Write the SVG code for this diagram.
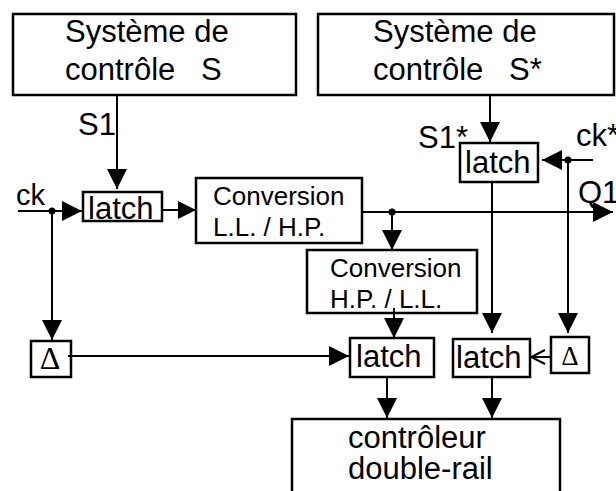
<svg xmlns="http://www.w3.org/2000/svg" width="616" height="491" viewBox="0 0 616 491">
<defs>
<marker id="ah" markerUnits="userSpaceOnUse" viewBox="0 0 20 20" markerWidth="20" markerHeight="20" refX="20" refY="10" orient="auto"><path d="M0,0 L20,10 L0,20 z" fill="#000"/></marker>
<marker id="ahs" markerUnits="userSpaceOnUse" viewBox="0 0 18 18" markerWidth="18" markerHeight="18" refX="18" refY="9" orient="auto"><path d="M0,0 L18,9 L0,18 z" fill="#000"/></marker>
<marker id="open" markerUnits="userSpaceOnUse" viewBox="0 0 16 16" markerWidth="16" markerHeight="16" refX="15" refY="8" orient="auto"><path d="M1,1 L15,8 L1,15" fill="none" stroke="#000" stroke-width="2"/></marker>
</defs>
<style>
rect{fill:#fff;stroke:#000;stroke-width:2.5}
.c line{stroke:#000;stroke-width:2}
.c circle{fill:#000}
text{font-family:"Liberation Sans",Arial,sans-serif;fill:#000;white-space:pre}
.b{font-size:31px}
.s{font-size:26px}
.d{font-family:"Liberation Serif","Times New Roman",serif;text-anchor:middle}
</style>
<rect x="0" y="0" width="616" height="491" style="fill:#fff;stroke:none"/>
<g id="sysS">
<rect x="13" y="14" width="283" height="81"/>
<text class="b" x="65" y="42">Système de</text>
<text class="b" x="65" y="80" xml:space="preserve">contrôle   S</text>
</g>
<g id="sysSstar">
<rect x="318" y="14" width="296" height="81"/>
<text class="b" x="373" y="42">Système de</text>
<text class="b" x="373" y="80" xml:space="preserve">contrôle   S*</text>
</g>
<g id="latchS">
<rect x="83" y="192" width="79" height="29"/>
<text class="b" x="88" y="219">latch</text>
</g>
<g id="latchSstar">
<rect x="460" y="143" width="78" height="39"/>
<text class="b" x="465" y="173">latch</text>
</g>
<g id="convLLHP">
<rect x="196" y="178" width="166" height="65"/>
<text class="s" x="213" y="205">Conversion</text>
<text class="s" x="213" y="236">L.L. / H.P.</text>
</g>
<g id="convHPLL">
<rect x="307" y="250" width="170" height="63"/>
<text class="s" x="330" y="277">Conversion</text>
<text class="s" x="330" y="308">H.P. / L.L.</text>
</g>
<g id="delayL">
<rect x="31" y="341" width="40" height="36"/>
<text class="d" x="50" y="369" style="font-size:32px">Δ</text>
</g>
<g id="delayR">
<rect x="551" y="337" width="38" height="36"/>
<text class="d" x="570" y="365" style="font-size:27px">Δ</text>
</g>
<g id="latch1">
<rect x="350" y="338" width="84" height="39"/>
<text class="b" x="356" y="367">latch</text>
</g>
<g id="latch2">
<rect x="453" y="339" width="77" height="38"/>
<text class="b" x="456" y="368">latch</text>
</g>
<g id="ctrl">
<rect x="292" y="419" width="268" height="90"/>
<text class="b" x="348" y="448">contrôleur</text>
<text class="b" x="348" y="479">double-rail</text>
</g>
<g id="labels">
<text class="b" x="78" y="135">S1</text>
<text class="b" x="16" y="205" style="font-size:29px">ck</text>
<text class="b" x="418" y="148">S1*</text>
<text class="b" x="576" y="146">ck*</text>
<text class="b" x="578" y="203">Q1</text>
</g>
<g id="connectors" class="c">
<line x1="117" y1="95" x2="117" y2="189" marker-end="url(#ah)"/>
<line x1="18" y1="211" x2="82" y2="211" marker-end="url(#ah)"/>
<circle cx="52" cy="211" r="3.5"/>
<line x1="52" y1="211" x2="52" y2="340" marker-end="url(#ah)"/>
<line x1="162" y1="210" x2="196" y2="210" marker-end="url(#ahs)"/>
<line x1="362" y1="212" x2="613" y2="212" marker-end="url(#ah)"/>
<circle cx="392" cy="212" r="3.5"/>
<line x1="392" y1="212" x2="392" y2="250" marker-end="url(#ah)"/>
<line x1="490" y1="95" x2="490" y2="142" marker-end="url(#ah)"/>
<line x1="593" y1="160" x2="542" y2="160" marker-end="url(#ah)"/>
<circle cx="568" cy="160" r="3.5"/>
<line x1="568" y1="160" x2="568" y2="333" marker-end="url(#ah)"/>
<line x1="492" y1="182" x2="492" y2="333" marker-end="url(#ah)"/>
<line x1="394" y1="308" x2="394" y2="338" marker-end="url(#ah)"/>
<line x1="68" y1="356" x2="349" y2="356" marker-end="url(#ah)"/>
<line x1="551" y1="357" x2="531" y2="357" marker-end="url(#open)"/>
<line x1="387" y1="377" x2="387" y2="418" marker-end="url(#ah)"/>
<line x1="492" y1="377" x2="492" y2="418" marker-end="url(#ah)"/>
</g>
</svg>
